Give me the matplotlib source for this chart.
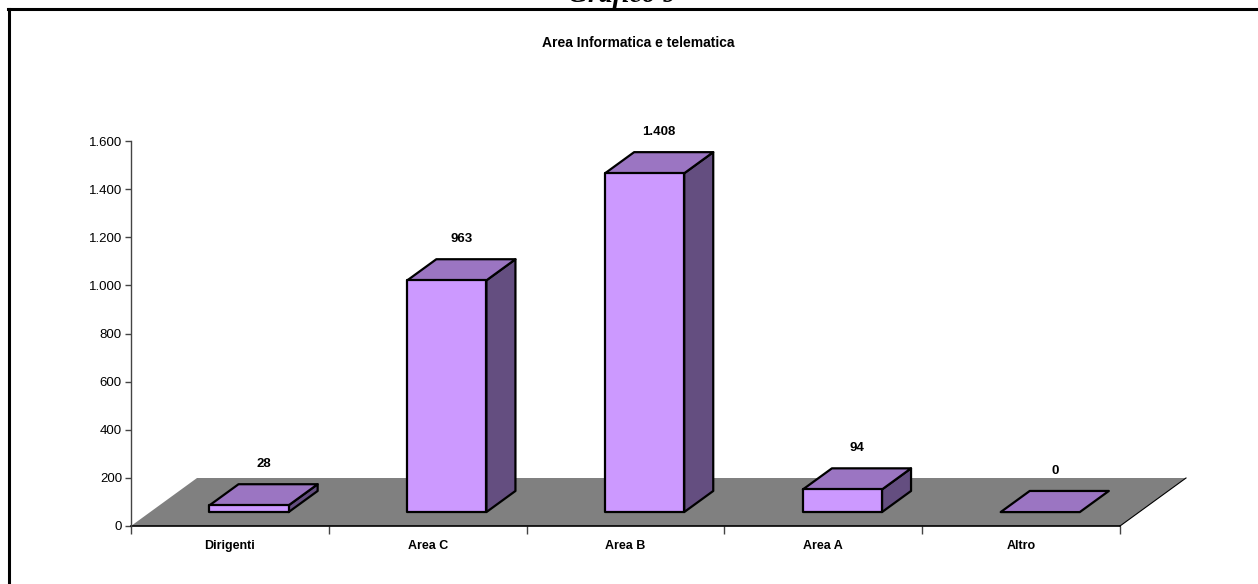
import matplotlib.pyplot as plt
from matplotlib.patches import Polygon
from matplotlib.lines import Line2D
from matplotlib.ticker import FixedLocator, FuncFormatter

categories = ["Dirigenti", "Area C", "Area B", "Area A", "Altro"]
values = [28, 963, 1408, 94, 0]
y_ticks = [0, 200, 400, 600, 800, 1000, 1200, 1400, 1600]

chart_title = "Area Informatica e telematica"
page_title = "Grafico 9"

W, H = 1258, 584
fx = lambda x: x / W
fy = lambda y: 1 - y / H

plt.rcParams['font.family'] = ['Liberation Sans', 'DejaVu Sans']

fig = plt.figure(figsize=(W / 100, H / 100), dpi=100)
ax = fig.add_axes([fx(131), fy(526), fx(1120) - fx(131), fy(141) - fy(526)])
ax.set_xlim(0, len(categories))
ax.set_ylim(0, 1600)

# depth of the floor in data units (66 px right, 48 px up)
px_x = (1120 - 131) / len(categories)
px_y = (526 - 141) / 1600
ddx = 66 / px_x
ddy = 48 / px_y

front_col = "#CC99FF"
top_col = "#9B75C2"
side_col = "#644E80"

# ================= FLOOR =================
n = len(categories)
floor = Polygon([(0, 0), (n, 0), (n + ddx, ddy), (ddx, ddy)], closed=True,
                facecolor="#808080", edgecolor="none", clip_on=False, zorder=1)
ax.add_patch(floor)
ax.add_line(Line2D([n, n + ddx], [0, ddy], color="black", lw=0.8, clip_on=False, zorder=2))

# ================= BARS =================
w = 0.40
f0, f1 = 0.29, 0.73
for i, v in enumerate(values):
    x0 = i + (1 - w) / 2 + f0 * ddx
    x1 = x0 + w
    y0 = f0 * ddy
    y1 = y0 + v
    sx = (f1 - f0) * ddx
    sy = (f1 - f0) * ddy
    kw = dict(closed=True, edgecolor="black", lw=1.6, joinstyle="round",
              clip_on=False, zorder=3)
    side = Polygon([(x1, y0), (x1 + sx, y0 + sy), (x1 + sx, y1 + sy), (x1, y1)],
                   facecolor=side_col, **kw)
    top = Polygon([(x0, y1), (x1, y1), (x1 + sx, y1 + sy), (x0 + sx, y1 + sy)],
                  facecolor=top_col, **kw)
    front = Polygon([(x0, y0), (x1, y0), (x1, y1), (x0, y1)],
                    facecolor=front_col, **kw)
    if v > 0:
        ax.add_patch(side)
    ax.add_patch(top)
    if v > 0:
        ax.add_patch(front)
    lbl = f"{v:,}".replace(",", ".")
    ax.text(x0 + w / 2 + sx / 2, y1 + sy + 85, lbl, ha="center", va="center",
            fontsize=9.5, fontweight="bold", zorder=5, clip_on=False)

# ================= AXES =================
for s in ["top", "right"]:
    ax.spines[s].set_visible(False)
ax.spines["left"].set_color("#444444")
ax.spines["left"].set_linewidth(1.0)
ax.spines["bottom"].set_color("black")
ax.spines["bottom"].set_linewidth(1.2)
ax.spines["bottom"].set_zorder(2)

ax.yaxis.set_major_locator(FixedLocator(y_ticks))
ax.yaxis.set_major_formatter(FuncFormatter(lambda v, p: f"{int(v):,}".replace(",", ".")))
ax.tick_params(axis="y", direction="out", length=4.5, width=1.0, color="#444444",
               labelsize=9.5, pad=2)

ax.xaxis.set_major_locator(FixedLocator(range(n + 1)))
ax.xaxis.set_major_formatter(FuncFormatter(lambda v, p: ""))
ax.xaxis.set_minor_locator(FixedLocator([i + 0.5 for i in range(n)]))
ax.set_xticklabels(categories, minor=True, fontsize=9, fontweight="bold")
ax.tick_params(axis="x", which="major", direction="out", length=5.5, width=1.0, color="#444444")
ax.tick_params(axis="x", which="minor", length=0, pad=10)
ax.set_facecolor("none")

# ================= TITLES & FRAME =================
fig.text(fx(638), fy(43), chart_title, ha="center", va="center",
         fontsize=10, fontweight="bold")
fig.text(fx(622), fy(2.5), page_title, ha="center", va="baseline", fontsize=20,
         fontweight="bold", style="italic", family=["Liberation Serif", "DejaVu Serif"])

fig.add_artist(Line2D([fx(8.5), fx(8.5)], [fy(9), 0], transform=fig.transFigure,
                      color="black", lw=2.2))
fig.add_artist(Line2D([fx(7.5), 1], [fy(9), fy(9)], transform=fig.transFigure,
                      color="black", lw=2.2))

fig.savefig("out.png", dpi=100)
